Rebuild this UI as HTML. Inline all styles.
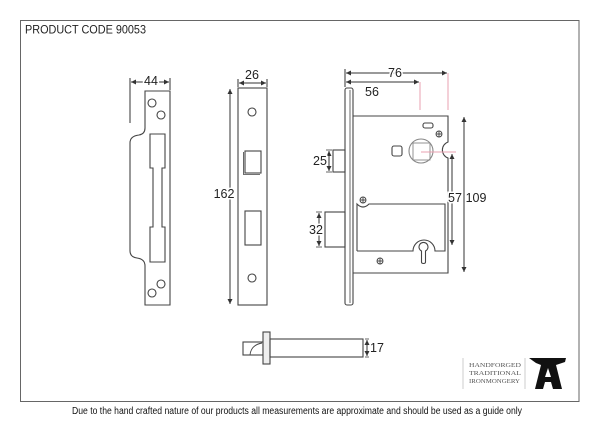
<!DOCTYPE html>
<html>
<head>
<meta charset="utf-8">
<style>
html,body{margin:0;padding:0;background:#fff;}
svg{display:block;}
</style>
</head>
<body>
<svg width="600" height="425" viewBox="0 0 600 425" xmlns="http://www.w3.org/2000/svg">
<defs>
<marker id="a" viewBox="0 0 6 6" refX="6" refY="3" markerWidth="5" markerHeight="5" orient="auto-start-reverse" markerUnits="userSpaceOnUse">
<path d="M0,0 L6,3 L0,6 z" fill="#333"/>
</marker>
</defs>
<rect x="0" y="0" width="600" height="425" fill="#fff"/>
<!-- frame -->
<rect x="20.5" y="20.5" width="558.5" height="381" fill="none" stroke="#666" stroke-width="1"/>
<text x="25" y="33.5" font-family="Liberation Sans, sans-serif" font-size="12" fill="#222" textLength="121" lengthAdjust="spacingAndGlyphs">PRODUCT CODE 90053</text>

<g fill="none" stroke="#444" stroke-width="1.1">
<!-- strike plate -->
<path d="M145,91 V128 Q145,134 139,135 Q130,136 130,143 V251 Q130,257 137,258 Q145,259 145,266 V305 H170 V91 Z"/>
<path d="M150,134 H165 V168 H162 V227 H165 V262 H150 V227 H153 V168 H150 Z"/>
<circle cx="152" cy="103" r="4"/>
<circle cx="161" cy="115" r="4"/>
<circle cx="161" cy="284" r="4"/>
<circle cx="152" cy="293" r="4"/>

<!-- faceplate -->
<rect x="238" y="88" width="29" height="217"/>
<circle cx="252" cy="112" r="4"/>
<circle cx="252" cy="278" r="4"/>
<rect x="245" y="151" width="16" height="22"/>
<path d="M243.5,152 V174.5 H260" stroke-width="0.8"/>
<rect x="245" y="211" width="16" height="34"/>

<!-- lock body forend -->
<rect x="345" y="88" width="8" height="217" rx="2"/>
<line x1="350" y1="90" x2="350" y2="303" stroke-width="0.8"/>
<!-- case -->
<path d="M353,116 H448 V142 A8.5,8.5 0 0 0 448,158 V273 H353"/>
<rect x="423" y="123" width="10" height="5" rx="2"/>
<rect x="392" y="146" width="10" height="10" rx="2"/>
<circle cx="421" cy="151" r="12" stroke="#888"/>
<rect x="413" y="143" width="17" height="17" stroke="#888" stroke-width="0.9"/>
<!-- bolts -->
<rect x="333" y="150" width="12" height="22"/>
<rect x="325" y="212" width="20" height="35"/>
<!-- lower box -->
<path d="M357,251 V204 Q363,210 369,204 H445 V251 H435 A11,11 0 1 0 413,251 H357"/>
<path d="M421.5,251 A4.5,4.5 0 1 1 425.5,251 V262 Q425.5,263.5 423.5,263.5 Q421.5,263.5 421.5,262 Z"/>

<!-- spindle / bolt part -->
<rect x="243" y="342" width="20" height="13"/>
<path d="M250,355 Q251,345 262,343" stroke-width="0.9"/>
<rect x="263" y="332" width="7" height="32" fill="#eee"/>
<rect x="270" y="339" width="93" height="18"/>
</g>

<!-- screws -->
<g fill="none" stroke="#444" stroke-width="0.9">
<circle cx="439" cy="134" r="3"/><path d="M436,134 H442 M439,131 V137"/>
<circle cx="363" cy="200" r="3"/><path d="M360,200 H366 M363,197 V203"/>
<circle cx="380" cy="261" r="3"/><path d="M377,261 H383 M380,258 V264"/>
</g>

<!-- pink reference lines -->
<g stroke="#e8a0b0" stroke-width="1">
<line x1="420" y1="82" x2="420" y2="110"/>
<line x1="448" y1="73" x2="448" y2="110"/>
<line x1="421" y1="152" x2="456" y2="152"/>
</g>

<!-- dimension lines -->
<g stroke="#333" stroke-width="1" fill="none">
<line x1="130" y1="78" x2="130" y2="123"/>
<line x1="170" y1="78" x2="170" y2="90"/>
<line x1="131" y1="82" x2="169" y2="82" marker-start="url(#a)" marker-end="url(#a)"/>
<line x1="238" y1="79" x2="238" y2="87"/>
<line x1="267" y1="79" x2="267" y2="87"/>
<line x1="239" y1="83" x2="266" y2="83" marker-start="url(#a)" marker-end="url(#a)"/>
<line x1="230" y1="89" x2="230" y2="304" marker-start="url(#a)" marker-end="url(#a)"/>
<line x1="345" y1="69" x2="345" y2="87"/>
<line x1="346" y1="73" x2="447" y2="73" marker-start="url(#a)" marker-end="url(#a)"/>
<line x1="346" y1="82" x2="419" y2="82" marker-start="url(#a)" marker-end="url(#a)"/>
<line x1="464" y1="117" x2="464" y2="272" marker-start="url(#a)" marker-end="url(#a)"/>
<line x1="452" y1="154" x2="452" y2="245" marker-start="url(#a)" marker-end="url(#a)"/>
<line x1="329" y1="151" x2="329" y2="171" marker-start="url(#a)" marker-end="url(#a)"/>
<line x1="319" y1="213" x2="319" y2="246" marker-start="url(#a)" marker-end="url(#a)"/>
<line x1="367" y1="340" x2="367" y2="356" marker-start="url(#a)" marker-end="url(#a)"/>
<path d="M326,150 H332 M326,172 H332 M316,212 H322 M316,247 H322 M365,339 H369 M365,357 H369" stroke-width="0.8"/>
</g>

<!-- dimension text -->
<g font-family="Liberation Sans, sans-serif" font-size="12.5" fill="#222" text-anchor="middle" stroke="#fff" stroke-width="3" paint-order="stroke">
<text x="151" y="85">44</text>
<text x="252" y="79">26</text>
<text x="224" y="198">162</text>
<text x="395" y="77">76</text>
<text x="372" y="96">56</text>
<text x="320" y="165">25</text>
<text x="316" y="234">32</text>
<text x="455" y="202">57</text>
<text x="476" y="202">109</text>
<text x="377" y="352">17</text>
</g>

<!-- logo -->
<g stroke="#ccc" stroke-width="1">
<line x1="463" y1="358" x2="463" y2="389"/>
<line x1="525" y1="358" x2="525" y2="389"/>
</g>
<g font-family="Liberation Serif, serif" font-size="5.8" fill="#555">
<text x="469" y="367" textLength="52" lengthAdjust="spacingAndGlyphs">HANDFORGED</text>
<text x="469" y="375" textLength="52" lengthAdjust="spacingAndGlyphs">TRADITIONAL</text>
<text x="469" y="383" textLength="51" lengthAdjust="spacingAndGlyphs">IRONMONGERY</text>
</g>
<path fill="#111" fill-rule="evenodd" d="M529,358 H566 L565,362 L556,365 L562,389 H553 L551,382 H545 L543,389 H535 L541,365 L536,363 Z M548,368 L551,377 H545 Z"/>

<!-- footer -->
<text x="297" y="414" font-family="Liberation Sans, sans-serif" font-size="10" fill="#111" text-anchor="middle" textLength="450" lengthAdjust="spacingAndGlyphs">Due to the hand crafted nature of our products all measurements are approximate and should be used as a guide only</text>
</svg>
</body>
</html>
